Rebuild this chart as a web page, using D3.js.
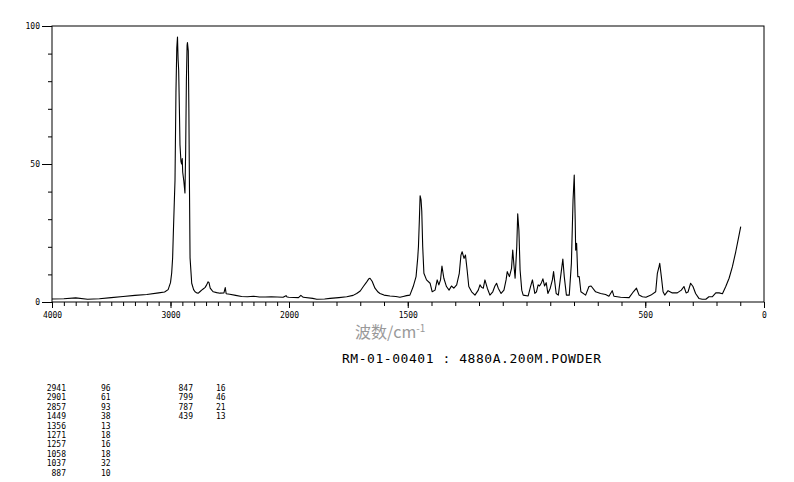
<!DOCTYPE html>
<html>
<head>
<meta charset="utf-8">
<script src="https://cdn.jsdelivr.net/npm/d3@7"></script>
<style>
  body { margin: 0; background: #fff; }
  svg { display: block; }
</style>
</head>
<body>
<svg width="794" height="482"></svg>
<script>
// spectrum: wavenumber (cm-1) and relative intensity
const wavenumbers = [
  4000, 3900, 3800, 3700, 3600, 3500, 3400, 3300, 3200, 3100, 3050, 3020, 3000, 2990,
  2982, 2976, 2968, 2962, 2954, 2947, 2941, 2936, 2931, 2925, 2920, 2912, 2906, 2901,
  2897, 2888, 2878, 2872, 2866, 2860, 2857, 2850, 2845, 2841, 2835, 2821, 2805, 2793,
  2779, 2765, 2750, 2737, 2722, 2709, 2695, 2683, 2675, 2665, 2650, 2639, 2610, 2582,
  2549, 2538, 2530, 2500, 2450, 2400, 2350, 2300, 2250, 2200, 2150, 2100, 2050, 2025,
  2015, 2000, 1960, 1950, 1940, 1900, 1883, 1850, 1827, 1790, 1757, 1730, 1715, 1700,
  1687, 1675, 1665, 1659, 1650, 1638, 1625, 1617, 1600, 1575, 1550, 1533, 1519, 1505,
  1491, 1477, 1465, 1458, 1455, 1451, 1448, 1444, 1441, 1437, 1432, 1421, 1406, 1397,
  1385, 1376, 1369, 1362, 1356, 1348, 1337, 1326, 1316, 1306, 1294, 1283, 1276, 1271,
  1263, 1257, 1250, 1243, 1231, 1217, 1203, 1196, 1189, 1182, 1175, 1165, 1154, 1142,
  1133, 1126, 1119, 1107, 1095, 1086, 1081, 1072, 1063, 1058, 1053, 1048, 1041, 1037,
  1032, 1027, 1020, 1014, 993, 983, 975, 965, 958, 951, 945, 937, 931, 924, 917, 910,
  900, 891, 886, 882, 875, 866, 858, 851, 847, 841, 832, 820, 811, 804, 799, 795, 793,
  789, 784, 778, 771, 751, 737, 728, 709, 688, 667, 653, 639, 632, 604, 568, 550, 537,
  526, 512, 497, 476, 456, 449, 442, 439, 432, 425, 418, 404, 386, 365, 348, 337, 328,
  320, 309, 299, 288, 274, 260, 245, 232, 218, 203, 189, 175, 161, 147, 133, 119, 108, 98
];
const intensities = [
  1.1, 1.2, 1.5, 1.0, 1.2, 1.6, 2.0, 2.4, 2.7, 3.3, 3.6, 4.5, 7, 10.5,
  16, 25, 36, 44, 76, 92, 96, 88, 84, 70, 57, 51, 50, 52,
  47, 44, 39.5, 55, 80, 93, 94, 91, 70, 47, 16, 6.8, 4.5, 3.7,
  3.3, 3.2, 3.8, 4.3, 4.8, 5.2, 6.2, 7.3, 7.0, 5.0, 4.2, 3.7, 3.4, 3.2,
  3.3, 5.2, 3.0, 2.8, 2.4, 2.0, 1.9, 2.1, 1.8, 1.8, 1.9, 1.8, 1.7, 2.3,
  1.8, 1.7, 1.6, 2.4, 1.7, 1.3, 1.0, 1.1, 1.3, 1.6, 1.9, 2.4, 3.1, 4.0,
  5.6, 7.0, 8.3, 8.6, 7.5, 5.0, 3.6, 3.1, 2.5, 2.2, 2.0, 1.7, 2.0, 2.3,
  2.5, 5.6, 9.2, 16, 20, 30, 38.5, 37, 33, 20, 10.4, 8, 6.8, 3.7,
  4.3, 8, 6.2, 8, 13, 8.6, 5.6, 4.3, 5.8, 5.0, 6.2, 10.4, 17, 18.2,
  15.8, 17, 11.6, 5.6, 3.7, 2.5, 4.3, 6.2, 5.3, 5.0, 8.0, 5.0, 2.5, 3.7,
  5.8, 6.8, 5.0, 3.1, 4.3, 8, 11, 9.2, 12.2, 18.8, 13.4, 8.6, 20, 32,
  26, 11.6, 4.3, 2.5, 2.2, 5.6, 8, 3.1, 3.7, 6.2, 5.8, 7, 8.4, 5.8, 7, 3.1,
  5, 8, 11, 8, 3.1, 2.5, 8, 12.8, 15.6, 9.2, 2.5, 2.5, 14, 37, 46, 30, 18.8,
  21.3, 9.2, 9.2, 3.7, 2.5, 5.6, 5.8, 3.7, 3.1, 2.7, 2.1, 4.1, 2.1, 1.7, 1.6, 3.7, 5.0,
  2.5, 1.9, 1.7, 2.5, 3.7, 10.4, 12.8, 14, 9, 3.7, 2.5, 4.1, 3.3, 3.3, 4.3, 5.6, 3.3,
  3.6, 6.8, 5.6, 3.1, 1.3, 1.0, 1.0, 1.9, 1.9, 3.3, 3.3, 3.0, 5.6, 8.6, 12.8, 18.2, 23, 27.3
];
// axis ticks
const xMajorTicks = [4000, 3000, 2000, 1500, 500, 0];
const xMinorTicks = d3.range(4000, -1, -100);
const yMajorTicks = [0, 50, 100];
const yMinorTicks = d3.range(0, 101, 10);
// peak table under the chart
const peakWn1 = ["2941", "2901", "2857", "1449", "1356", "1271", "1257", "1058", "1037", "887"];
const peakInt1 = ["96", "61", "93", "38", "13", "18", "16", "18", "32", "10"];
const peakWn2 = ["847", "799", "787", "439"];
const peakInt2 = ["16", "46", "21", "13"];

const svg = d3.select("svg");
const plotLeft = 52, plotRight = 764, plotTop = 26, plotBottom = 302;

// the 4000-2000 part is drawn at half scale
const x = d3.scaleLinear().domain([4000, 2000, 0]).range([plotLeft, 289, plotRight]);
const y = d3.scaleLinear().domain([0, 100]).range([plotBottom, plotTop]);

const mono = "'DejaVu Sans Mono', 'Liberation Mono', monospace";

// frame
svg.append("rect")
  .attr("x", plotLeft).attr("y", plotTop)
  .attr("width", plotRight - plotLeft).attr("height", plotBottom - plotTop)
  .attr("fill", "none").attr("stroke", "#000").attr("stroke-width", 1);

// x minor ticks
svg.append("g")
  .attr("transform", `translate(0,${plotBottom})`)
  .call(d3.axisBottom(x).tickValues(xMinorTicks).tickSize(4).tickFormat(""))
  .call((g) => g.select(".domain").remove());
// x major ticks with labels
svg.append("g")
  .attr("transform", `translate(0,${plotBottom})`)
  .call(d3.axisBottom(x).tickValues(xMajorTicks).tickSize(6).tickPadding(4).tickFormat(d3.format("d")))
  .call((g) => g.select(".domain").remove())
  .call((g) => g.selectAll("text").attr("font-family", mono).attr("font-size", 8).attr("fill", "#000"));

// y minor ticks
svg.append("g")
  .attr("transform", `translate(${plotLeft},0)`)
  .call(d3.axisLeft(y).tickValues(yMinorTicks).tickSize(4).tickFormat(""))
  .call((g) => g.select(".domain").remove());
// y major ticks with labels
svg.append("g")
  .attr("transform", `translate(${plotLeft},0)`)
  .call(d3.axisLeft(y).tickValues(yMajorTicks).tickSize(10).tickPadding(2).tickFormat(d3.format("d")))
  .call((g) => g.select(".domain").remove())
  .call((g) => g.selectAll("text").attr("font-family", mono).attr("font-size", 8).attr("fill", "#000"));

// spectrum line
const points = wavenumbers.map((w, i) => [w, intensities[i]]);
const line = d3.line().x((d) => x(d[0])).y((d) => y(d[1]));
svg.append("path")
  .datum(points)
  .attr("d", line)
  .attr("fill", "none")
  .attr("stroke", "#000")
  .attr("stroke-width", 1.1)
  .attr("stroke-linejoin", "round");

// axis title
const xTitle = svg.append("text")
  .attr("x", 355).attr("y", 338)
  .attr("font-family", "'Noto Sans CJK SC', sans-serif")
  .attr("font-size", 16)
  .attr("fill", "#999");
xTitle.append("tspan").text("波数/cm");
xTitle.append("tspan").attr("dy", -6).attr("font-size", 10).text("-1");

// sample line
svg.append("text")
  .attr("x", 342).attr("y", 363)
  .attr("font-family", mono)
  .attr("font-size", 13)
  .attr("textLength", 259)
  .attr("lengthAdjust", "spacing")
  .text("RM-01-00401 : 4880A.200M.POWDER");

// peak table
const table = svg.append("g")
  .attr("font-family", mono)
  .attr("font-size", 8)
  .attr("fill", "#000");
const rowY = (i) => 391 + i * 9.4;
table.selectAll(".wn1").data(peakWn1).enter().append("text")
  .attr("x", 66).attr("y", (d, i) => rowY(i)).attr("text-anchor", "end").text((d) => d);
table.selectAll(".in1").data(peakInt1).enter().append("text")
  .attr("x", 101).attr("y", (d, i) => rowY(i)).text((d) => d);
table.selectAll(".wn2").data(peakWn2).enter().append("text")
  .attr("x", 193).attr("y", (d, i) => rowY(i)).attr("text-anchor", "end").text((d) => d);
table.selectAll(".in2").data(peakInt2).enter().append("text")
  .attr("x", 216).attr("y", (d, i) => rowY(i)).text((d) => d);
</script>
</body>
</html>
